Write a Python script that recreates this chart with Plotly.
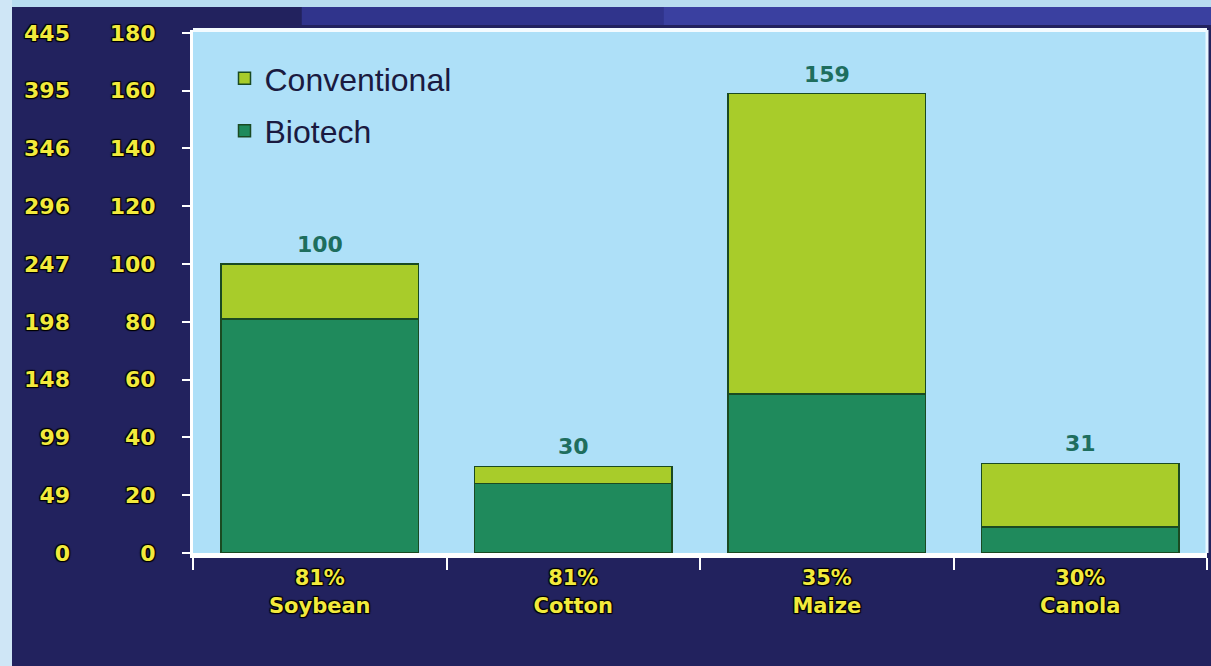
import plotly.graph_objects as go

crops = ["Soybean", "Cotton", "Maize", "Canola"]
adoption_pct = ["81%", "81%", "35%", "30%"]
biotech = [81, 24, 55, 9]
conventional = [19, 6, 104, 22]
totals = [100, 30, 159, 31]
y_ticks = [0, 20, 40, 60, 80, 100, 120, 140, 160, 180]
acre_ticks = ["0", "49", "99", "148", "198", "247", "296", "346", "395", "445"]

W, H = 1211, 666
L_PLOT = 193
YEL = "#f2ea3c"
SHADOW = "1px 1px 1px #000, -1px -1px 1px #000, 1px -1px 1px #000, -1px 1px 1px #000"

x_labels = [f"{p}<br>{c}" for p, c in zip(adoption_pct, crops)]

fig = go.Figure()
fig.add_trace(go.Bar(
    x=crops, y=biotech, name="Biotech", legendrank=2, legendgroup="b",
    marker=dict(color="#1f8a5c", line=dict(color="#1a4a22", width=1.5)),
    width=0.78, hoverinfo="y",
))
fig.add_trace(go.Bar(
    x=crops, y=conventional, name="Conventional", legendrank=1, legendgroup="c",
    marker=dict(color="#a8cc2a", line=dict(color="#1a4a22", width=1.5)),
    width=0.78, hoverinfo="y",
))
# invisible trace so the secondary (acre) axis is drawn
fig.add_trace(go.Scatter(
    x=crops, y=totals, yaxis="y2", mode="markers", marker=dict(opacity=0),
    showlegend=False, hoverinfo="skip",
))

for c, t in zip(crops, totals):
    fig.add_annotation(
        x=c, y=t, text=str(t), showarrow=False, yanchor="bottom", yshift=5,
        font=dict(family="DejaVu Sans", size=22, color="#1e6e5e", weight="bold"),
    )

dom0 = L_PLOT / (W - 4)

fig.update_layout(
    width=W, height=H,
    barmode="stack",
    paper_bgcolor="#22225e",
    plot_bgcolor="#aee0f8",
    margin=dict(l=0, r=4, t=30, b=113),
    showlegend=True,
    legend=dict(
        x=0.186, y=0.96, xanchor="left", yanchor="top",
        traceorder="grouped", tracegroupgap=8,
        bgcolor="rgba(0,0,0,0)",
        font=dict(family="Liberation Sans, Arial", size=32, color="#1a1a40"),
    ),
    xaxis=dict(
        domain=[dom0, 1],
        tickmode="array", tickvals=crops, ticktext=x_labels,
        tickson="boundaries", ticks="outside", ticklen=12, tickwidth=2, tickcolor="white",
        showline=True, linecolor="white", linewidth=5, mirror=False,
        showgrid=False, zeroline=False,
        tickfont=dict(family="DejaVu Sans", size=21, color=YEL, weight="bold", shadow=SHADOW),
        ticklabelstandoff=2,
    ),
    yaxis=dict(
        range=[0, 181],
        tickmode="array", tickvals=y_ticks,
        ticks="outside", ticklen=8, tickwidth=2, tickcolor="white",
        showline=True, linecolor="white", linewidth=3,
        showgrid=False, zeroline=False,
        tickfont=dict(family="DejaVu Sans", size=22, color=YEL, weight="bold", shadow=SHADOW),
        ticklabelstandoff=22,
    ),
    yaxis2=dict(
        overlaying="y", anchor="free", side="left", position=70 / (W - 4),
        range=[0, 181],
        tickmode="array", tickvals=y_ticks, ticktext=acre_ticks,
        ticks="", showline=False, showgrid=False, zeroline=False,
        tickfont=dict(family="DejaVu Sans", size=22, color=YEL, weight="bold", shadow=SHADOW),
    ),
    shapes=[
        dict(type="rect", xref="paper", yref="paper", x0=-0.01, x1=1.01, y0=1 + 23 / 523, y1=1.2,
             fillcolor="#b8dcf0", line_width=0, layer="below"),
        dict(type="rect", xref="paper", yref="paper", x0=0.25, x1=1.01,
             y0=1 + 5 / 523, y1=1 + 23 / 523, fillcolor="#30348c", line_width=0, layer="below"),
        dict(type="rect", xref="paper", yref="paper", x0=0.55, x1=1.01,
             y0=1 + 5 / 523, y1=1 + 23 / 523, fillcolor="#3a40a0", line_width=0, layer="below"),
        dict(type="rect", xref="paper", yref="paper", x0=-0.01, x1=12 / (W - 4),
             y0=-0.3, y1=1.1, fillcolor="#cfe6f6", line_width=0, layer="below"),
        dict(type="line", xref="paper", yref="paper", x0=dom0, x1=1, y0=1, y1=1,
             line=dict(color="#f4fbff", width=4)),
        dict(type="line", xref="paper", yref="paper", x0=1, x1=1, y0=0, y1=1,
             line=dict(color="#e8f6ff", width=3)),
    ],
)

fig.write_html("out.html")
